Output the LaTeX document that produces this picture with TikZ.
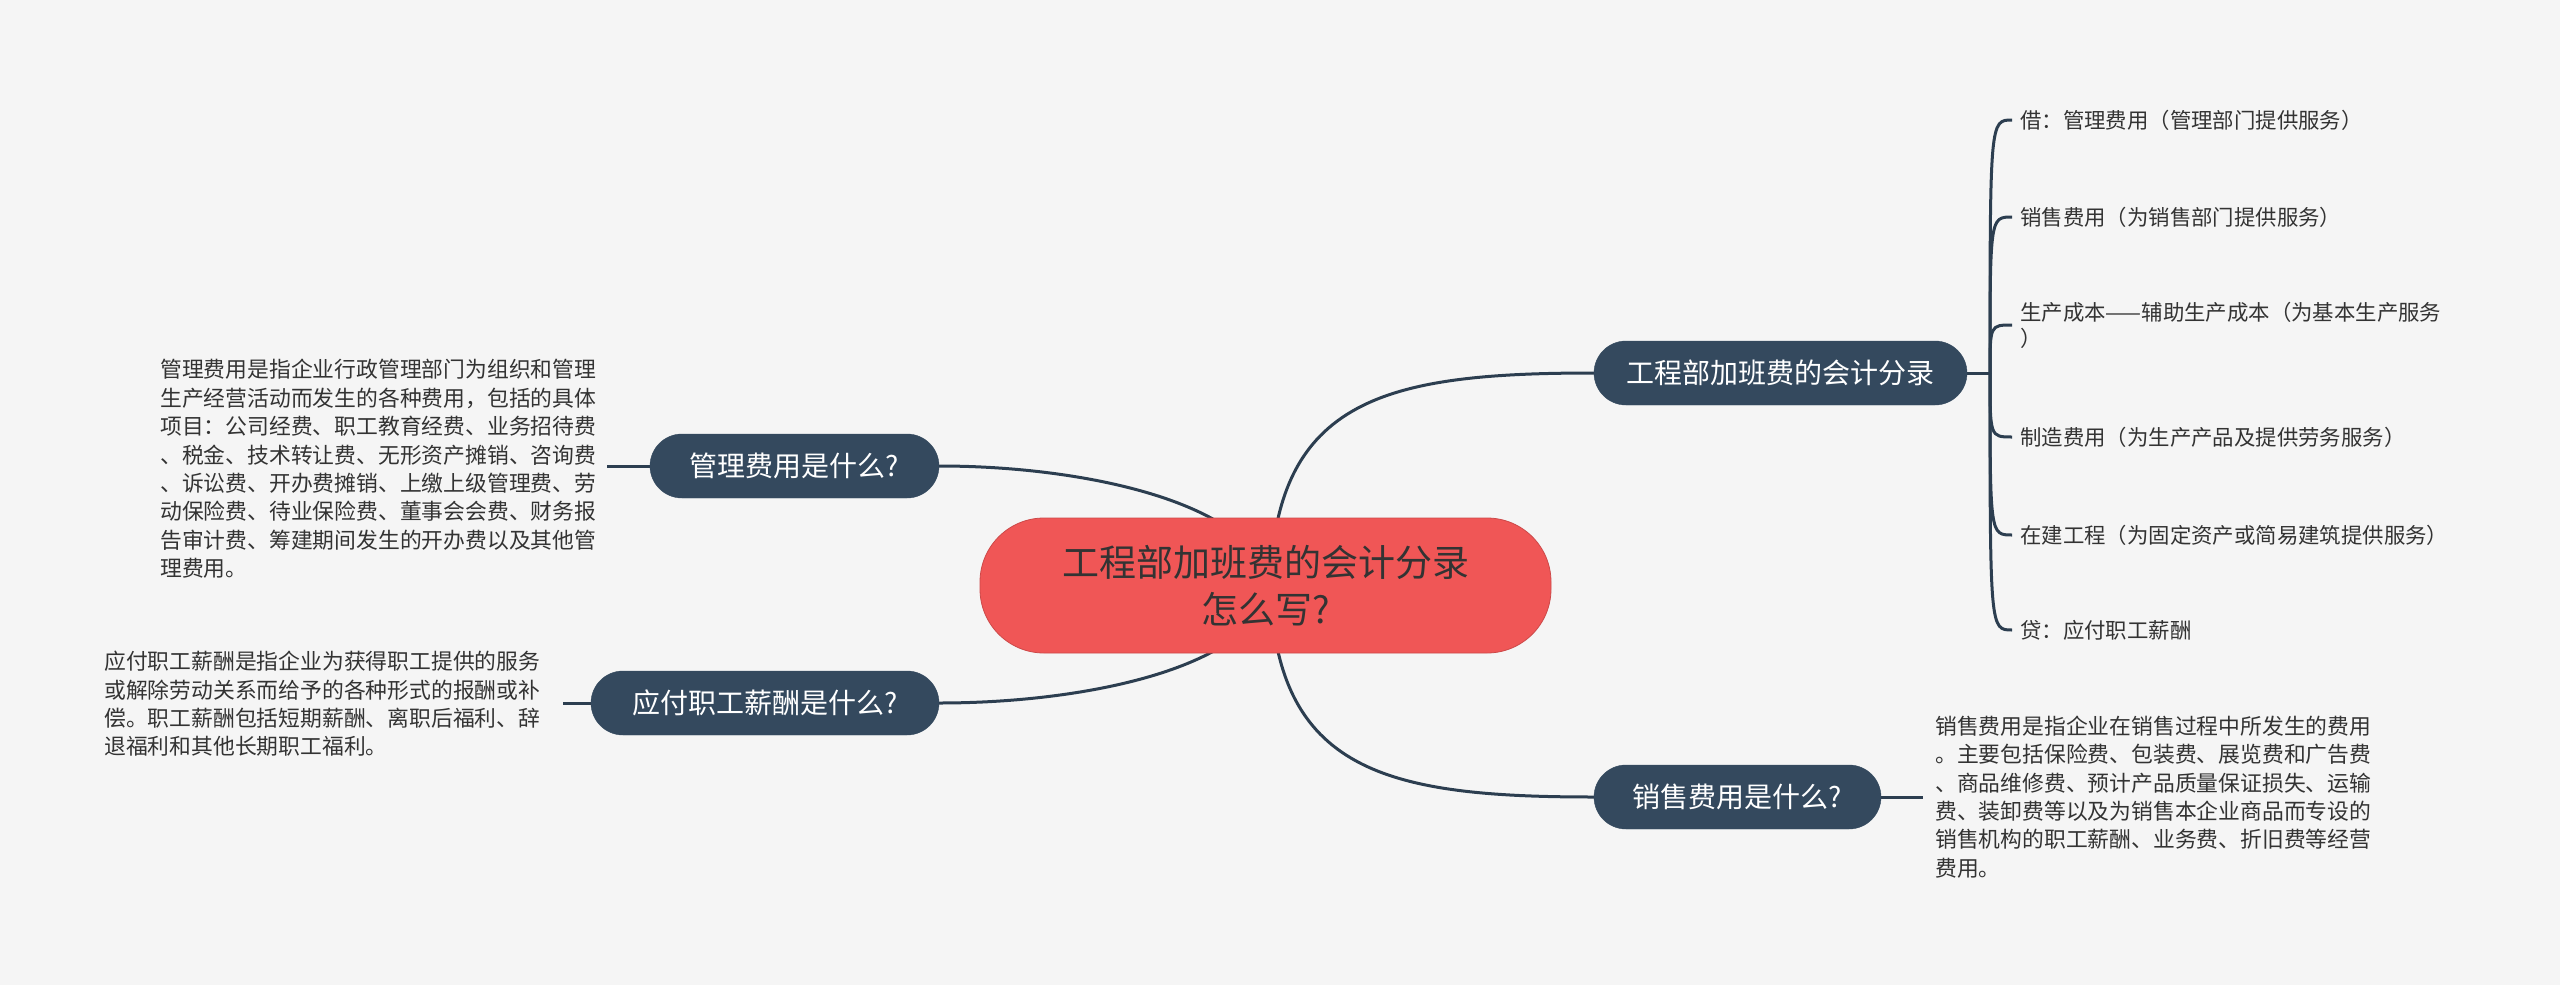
\documentclass[tikz,border=0pt]{standalone}
\usepackage{fontspec}
\newfontfamily\cjk{Noto Sans CJK SC}
\definecolor{bgc}{HTML}{F5F5F5}
\definecolor{navy}{HTML}{34495E}
\definecolor{linec}{HTML}{2C3E50}
\definecolor{redc}{HTML}{F05656}
\definecolor{txt}{HTML}{333333}
\pgfdeclarelayer{back}
\pgfdeclarelayer{bg}
\pgfsetlayers{back,bg,main}
\tikzset{
  every node/.style={font=\cjk},
  topic/.style={fill=navy, draw=navy, text=white, rounded corners=32pt, minimum height=64pt, inner sep=0pt, font=\cjk\fontsize{28}{34}\selectfont},
  central/.style={fill=redc, draw=redc!85!black, line width=0.8pt, text=txt, rounded corners=64pt, minimum width=571pt, minimum height=135pt, align=center, inner sep=0pt, font=\cjk\fontsize{37}{47}\selectfont},
  desc/.style={text=txt, align=left, inner sep=0pt, font=\cjk\fontsize{21.8}{28.4}\selectfont},
  leaf/.style={text=txt, align=left, inner xsep=8pt, inner ysep=0pt, anchor=west, font=\cjk\fontsize{21.4}{27}\selectfont},
  conn/.style={draw=linec, line width=3pt},
}
\begin{document}
\begin{tikzpicture}[x=1pt,y=-1pt]
\begin{pgfonlayer}{back}
\fill[bgc] (0,0) rectangle (2560,985);
\end{pgfonlayer}
\useasboundingbox (0,0) rectangle (2560,985);

% central
\node[central] (c) at (1265.5,585.5) {工程部加班费的会计分录\\怎么写?};

% topics
\node[topic, minimum width=373pt] (gc) at (1780.5,373) {工程部加班费的会计分录};
\node[topic, minimum width=287pt] (xs) at (1737.5,797) {销售费用是什么?};
\node[topic, minimum width=289pt] (mg) at (794.5,466) {管理费用是什么?};
\node[topic, minimum width=348pt] (yf) at (765,703) {应付职工薪酬是什么?};

% descriptions
\node[desc, anchor=west] (mgd) at (160,469) {管理费用是指企业行政管理部门为组织和管理\\生产经营活动而发生的各种费用，包括的具体\\项目：公司经费、职工教育经费、业务招待费\\、税金、技术转让费、无形资产摊销、咨询费\\、诉讼费、开办费摊销、上缴上级管理费、劳\\动保险费、待业保险费、董事会会费、财务报\\告审计费、筹建期间发生的开办费以及其他管\\理费用。};
\node[desc, anchor=west] (yfd) at (104,704) {应付职工薪酬是指企业为获得职工提供的服务\\或解除劳动关系而给予的各种形式的报酬或补\\偿。职工薪酬包括短期薪酬、离职后福利、辞\\退福利和其他长期职工福利。};
\node[desc, anchor=west] (xsd) at (1935,797) {销售费用是指企业在销售过程中所发生的费用\\。主要包括保险费、包装费、展览费和广告费\\、商品维修费、预计产品质量保证损失、运输\\费、装卸费等以及为销售本企业商品而专设的\\销售机构的职工薪酬、业务费、折旧费等经营\\费用。};

% leaves
\node[leaf] (l1) at (2012,120) {借：管理费用（管理部门提供服务）};
\node[leaf, font=\cjk\fontsize{21.4}{26}\selectfont] (l3) at (2012,325) {生产成本——辅助生产成本（为基本生产服务\\）};
\node[leaf] (l2) at (2012,217) {销售费用（为销售部门提供服务）};
\node[leaf] (l4) at (2012,437) {制造费用（为生产产品及提供劳务服务）};
\node[leaf] (l5) at (2012,535) {在建工程（为固定资产或简易建筑提供服务）};
\node[leaf] (l6) at (2012,630) {贷：应付职工薪酬};

\coordinate (mgs) at (607,466);
\coordinate (yfs) at (563,703);
\coordinate (xss) at (1923,797);
\coordinate (j) at (1990,373);

\begin{pgfonlayer}{bg}
% main branches
\draw[conn] (1268,582) .. controls (1255,505) and (1090,466) .. (mg.east);
\draw[conn] (1268,589) .. controls (1255,666) and (1090,703) .. (yf.east);
\draw[conn] (1270,600) .. controls (1270,400) and (1380,373) .. (gc.west);
\draw[conn] (1270,570) .. controls (1270,770) and (1380,797) .. (xs.west);
% description stubs
\draw[conn] (mg.west) -- (mgs);
\draw[conn] (yf.west) -- (yfs);
\draw[conn] (xs.east) -- (xss);
% bracket
\draw[conn] (gc.east) -- (j);
\foreach \l in {l1,l2,l3,l4,l5,l6}{
  \draw[conn] (j) .. controls (j |- \l.west) .. (\l.west);
}
\end{pgfonlayer}
\end{tikzpicture}
\end{document}
